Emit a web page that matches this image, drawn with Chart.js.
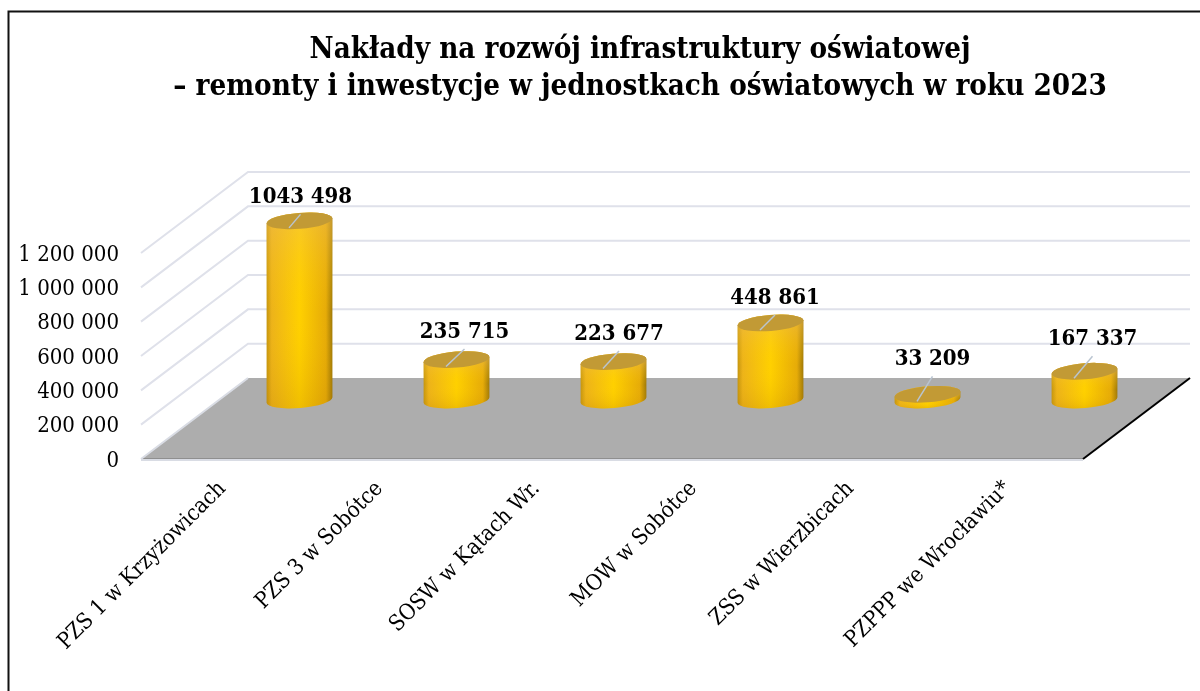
<!DOCTYPE html>
<html>
<head>
<meta charset="utf-8">
<script src="https://cdn.jsdelivr.net/npm/chart.js@4"></script>
<style>
  html, body { margin: 0; padding: 0; background: #fff; }
  canvas { display: block; }
</style>
</head>
<body>
<canvas id="chart" width="1200" height="691"></canvas>
<script>
const titleLines = [
  'Nakłady na rozwój infrastruktury oświatowej',
  '– remonty i inwestycje w jednostkach oświatowych w roku 2023'
];
const categories = [
  'PZS 1 w Krzyżowicach',
  'PZS 3 w Sobótce',
  'SOSW w Kątach Wr.',
  'MOW w Sobótce',
  'ZSS w Wierzbicach',
  'PZPPP we Wrocławiu*'
];
const values = [1043498, 235715, 223677, 448861, 33209, 167337];
const valueLabels = ['1043 498', '235 715', '223 677', '448 861', '33 209', '167 337'];
const tickLabels = ['0', '200 000', '400 000', '600 000', '800 000', '1 000 000', '1 200 000'];

const FONT = '"DejaVu Serif Condensed", "DejaVu Serif", serif';

// where the 3d box sits relative to the front axis
const depthX = 107, depthY = 81;
const barDX = 80, barDY = 59;
const rx = 33, ry = 8, tilt = -0.08;
// label nudges from the centre of each cylinder top
const labelNudge = [[1, -23.5], [8, -27.5], [5.5, -27.5], [4.5, -25], [5, -35], [8, -32]];

const box3d = {
  id: 'box3d',
  afterLayout(chart) {
    // title is centred at x=640, and needs the full width for line 2
    chart.titleBlock.left = 100;
    chart.titleBlock.right = 1180;
  },
  beforeDatasetsDraw(chart) {
    const ctx = chart.ctx;
    const { x, y } = chart.scales;
    const left = x.left, right = x.right, bottom = y.getPixelForValue(0);
    ctx.save();

    // frame, open to the right and bottom
    ctx.strokeStyle = '#111';
    ctx.lineWidth = 2;
    ctx.strokeRect(8.5, 11.5, 1400, 900);

    // gridlines across side wall and back wall
    ctx.strokeStyle = '#dfe1ea';
    ctx.lineWidth = 2;
    y.ticks.forEach(t => {
      if (t.value === 0) return;
      const py = y.getPixelForValue(t.value);
      ctx.beginPath();
      ctx.moveTo(left, py);
      ctx.lineTo(left + depthX, py - depthY);
      ctx.lineTo(right + depthX, py - depthY);
      ctx.stroke();
    });

    // floor
    ctx.fillStyle = '#adadad';
    ctx.beginPath();
    ctx.moveTo(left, bottom);
    ctx.lineTo(left + depthX, bottom - depthY);
    ctx.lineTo(right + depthX, bottom - depthY);
    ctx.lineTo(right, bottom);
    ctx.closePath();
    ctx.fill();

    ctx.strokeStyle = '#8f8f8f';
    ctx.lineWidth = 1;
    ctx.beginPath();
    ctx.moveTo(left, bottom - 0.5);
    ctx.lineTo(right, bottom - 0.5);
    ctx.stroke();
    ctx.strokeStyle = '#d9dce4';
    ctx.lineWidth = 2;
    ctx.beginPath();
    ctx.moveTo(left, bottom + 1);
    ctx.lineTo(right, bottom + 1);
    ctx.moveTo(left, bottom);
    ctx.lineTo(left + depthX, bottom - depthY);
    ctx.stroke();
    ctx.strokeStyle = '#000';
    ctx.lineWidth = 2;
    ctx.beginPath();
    ctx.moveTo(right, bottom);
    ctx.lineTo(right + depthX, bottom - depthY);
    ctx.stroke();
    ctx.restore();
  },
  afterDatasetsDraw(chart) {
    const ctx = chart.ctx;
    const bars = chart.getDatasetMeta(0).data;
    ctx.save();
    bars.forEach((bar, i) => {
      const cx = bar.x + barDX;
      const topY = bar.y - barDY;
      const baseY = bar.base - barDY;

      const side = new Path2D();
      side.ellipse(cx, baseY, rx, ry, tilt, Math.PI, 0, true);
      side.ellipse(cx, topY, rx, ry, tilt, 0, Math.PI, true);
      side.closePath();

      const g = ctx.createLinearGradient(cx - rx, 0, cx + rx, 0);
      g.addColorStop(0, '#c4940f');
      g.addColorStop(0.08, '#edb31a');
      g.addColorStop(0.5, '#ffd000');
      g.addColorStop(0.9, '#e6ab08');
      g.addColorStop(1, '#9e7808');
      ctx.fillStyle = g;
      ctx.fill(side);

      // paler towards the top, deeper at the foot
      const v = ctx.createLinearGradient(0, topY, 0, baseY + ry);
      v.addColorStop(0, 'rgba(240,190,90,0.45)');
      v.addColorStop(0.5, 'rgba(255,205,0,0)');
      v.addColorStop(1, 'rgba(170,110,0,0.18)');
      ctx.fillStyle = v;
      ctx.fill(side);

      ctx.fillStyle = '#c29a35';
      ctx.beginPath();
      ctx.ellipse(cx, topY, rx, ry, tilt, 0, Math.PI * 2);
      ctx.fill();

      // leader and value
      const lx = cx + labelNudge[i][0], ly = topY + labelNudge[i][1];
      ctx.strokeStyle = '#b9c4d0';
      ctx.lineWidth = 1.5;
      ctx.beginPath();
      ctx.moveTo(cx - 10.5, topY + 7);
      ctx.lineTo(lx, ly + 17);
      ctx.stroke();

      ctx.fillStyle = '#000';
      ctx.font = 'bold 22px ' + FONT;
      ctx.textAlign = 'center';
      ctx.textBaseline = 'middle';
      ctx.fillText(valueLabels[i], lx, ly);
    });
    ctx.restore();
  }
};

new Chart(document.getElementById('chart'), {
  type: 'bar',
  data: {
    labels: categories,
    datasets: [{ data: values, backgroundColor: 'transparent', borderWidth: 0 }]
  },
  options: {
    responsive: false,
    animation: false,
    layout: { padding: { left: 0, right: 117, top: 0, bottom: 0 } },
    plugins: {
      legend: { display: false },
      tooltip: { enabled: false },
      title: {
        display: true,
        text: titleLines,
        color: '#000',
        font: { family: FONT, size: 29.3, weight: 'bold', lineHeight: 37 / 29.3 },
        padding: { top: 32, bottom: 147 }
      }
    },
    scales: {
      x: {
        afterFit(s) { s.height = 232; },
        grid: { display: false },
        border: { display: false },
        ticks: {
          color: '#000',
          font: { family: FONT, size: 22 },
          minRotation: 45,
          maxRotation: 45,
          padding: 9,
          labelOffset: 3,
          autoSkip: false
        }
      },
      y: {
        min: 0,
        max: 1200000,
        afterFit(s) { s.width = 141; },
        grid: { display: false },
        border: { display: false },
        ticks: {
          stepSize: 200000,
          color: '#000',
          font: { family: FONT, size: 22 },
          padding: 14,
          labelOffset: 2,
          callback: (v, i) => tickLabels[i]
        }
      }
    }
  },
  plugins: [box3d]
});
</script>
</body>
</html>
